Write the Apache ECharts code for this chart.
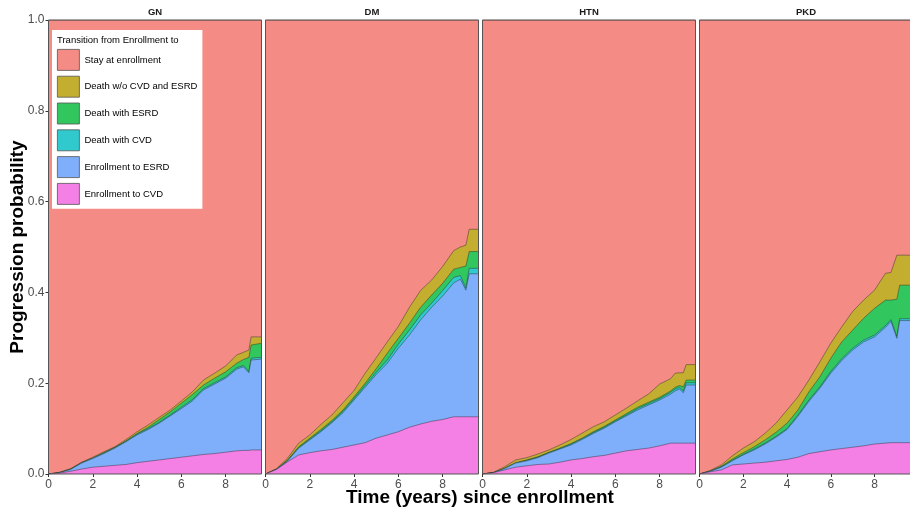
<!DOCTYPE html>
<html>
<head>
<meta charset="utf-8">
<script src="https://cdn.jsdelivr.net/npm/echarts@6/dist/echarts.min.js"></script>
<style>
html, body { margin: 0; padding: 0; background: #fff; }
#chart { width: 910px; height: 509px; }
</style>
</head>
<body>
<div id="chart"></div>
<script>
var PANELS = ['GN', 'DM', 'HTN', 'PKD'];
var STATES = ['Stay at enrollment', 'Death w/o CVD and ESRD', 'Death with ESRD',
    'Death with CVD', 'Enrollment to ESRD', 'Enrollment to CVD'];
var X_TICKS = [0, 2, 4, 6, 8];
var Y_TICKS = [0, 0.2, 0.4, 0.6, 0.8, 1.0];

/* each array is the level reached at the top of that band (stacked from CVD up) */

// GN
var gnTime = [0, 0.5, 1, 1.5, 2, 2.5, 3, 3.5, 4, 4.5, 5, 5.5, 6, 6.5, 7, 7.5, 8, 8.5, 8.8, 9.05, 9.15, 9.62];
var gnToCvd = [0, 0.002, 0.006, 0.011, 0.015, 0.017, 0.019, 0.021, 0.025, 0.028, 0.031, 0.034, 0.037, 0.040, 0.043, 0.045, 0.048, 0.051, 0.052, 0.052, 0.053, 0.053];
var gnToEsrd = [0, 0.003, 0.010, 0.024, 0.034, 0.045, 0.057, 0.071, 0.086, 0.098, 0.112, 0.128, 0.144, 0.161, 0.185, 0.198, 0.211, 0.231, 0.236, 0.223, 0.251, 0.253];
var gnDeathCvd = [0, 0.003, 0.010, 0.025, 0.035, 0.046, 0.058, 0.072, 0.088, 0.100, 0.114, 0.130, 0.147, 0.164, 0.188, 0.201, 0.214, 0.234, 0.239, 0.226, 0.255, 0.257];
var gnDeathEsrd = [0, 0.003, 0.011, 0.025, 0.035, 0.047, 0.059, 0.073, 0.089, 0.103, 0.120, 0.137, 0.156, 0.175, 0.196, 0.211, 0.225, 0.244, 0.252, 0.257, 0.284, 0.288];
var gnDeathOther = [0, 0.004, 0.012, 0.026, 0.037, 0.049, 0.060, 0.076, 0.093, 0.108, 0.125, 0.141, 0.161, 0.181, 0.207, 0.222, 0.238, 0.262, 0.268, 0.273, 0.302, 0.302];

// DM
var dmTime = [0, 0.5, 1, 1.5, 2, 2.5, 3, 3.5, 4, 4.5, 5, 5.5, 6, 6.5, 7, 7.5, 8, 8.5, 8.8, 9.05, 9.2, 9.62];
var dmToCvd = [0, 0.010, 0.027, 0.042, 0.047, 0.051, 0.054, 0.059, 0.064, 0.069, 0.079, 0.086, 0.093, 0.103, 0.110, 0.116, 0.120, 0.126, 0.126, 0.126, 0.126, 0.126];
var dmToEsrd = [0, 0.010, 0.029, 0.057, 0.075, 0.093, 0.113, 0.135, 0.163, 0.191, 0.219, 0.244, 0.277, 0.306, 0.339, 0.367, 0.392, 0.421, 0.429, 0.405, 0.441, 0.441];
var dmDeathCvd = [0, 0.010, 0.030, 0.058, 0.077, 0.095, 0.115, 0.138, 0.166, 0.195, 0.224, 0.251, 0.286, 0.317, 0.350, 0.376, 0.404, 0.433, 0.437, 0.410, 0.453, 0.453];
var dmDeathEsrd = [0, 0.011, 0.031, 0.060, 0.079, 0.098, 0.118, 0.141, 0.170, 0.200, 0.232, 0.266, 0.299, 0.332, 0.367, 0.394, 0.420, 0.451, 0.455, 0.458, 0.490, 0.490];
var dmDeathOther = [0, 0.012, 0.035, 0.068, 0.086, 0.109, 0.130, 0.157, 0.184, 0.222, 0.256, 0.291, 0.325, 0.367, 0.404, 0.427, 0.457, 0.492, 0.500, 0.504, 0.539, 0.539];

// HTN
var htnTime = [0, 0.5, 1, 1.5, 2, 2.5, 3, 3.5, 4, 4.5, 5, 5.5, 6, 6.5, 7, 7.5, 8, 8.5, 8.7, 8.9, 9.07, 9.2, 9.62];
var htnToCvd = [0, 0.003, 0.009, 0.015, 0.018, 0.021, 0.022, 0.026, 0.031, 0.034, 0.038, 0.041, 0.046, 0.051, 0.054, 0.057, 0.062, 0.068, 0.068, 0.068, 0.068, 0.068, 0.068];
var htnToEsrd = [0, 0.003, 0.012, 0.024, 0.029, 0.036, 0.046, 0.055, 0.064, 0.076, 0.089, 0.101, 0.115, 0.128, 0.141, 0.152, 0.163, 0.176, 0.183, 0.187, 0.179, 0.196, 0.196];
var htnDeathCvd = [0, 0.003, 0.012, 0.024, 0.030, 0.037, 0.047, 0.056, 0.066, 0.078, 0.091, 0.103, 0.117, 0.130, 0.144, 0.155, 0.166, 0.180, 0.187, 0.191, 0.183, 0.201, 0.201];
var htnDeathEsrd = [0, 0.003, 0.013, 0.025, 0.031, 0.038, 0.048, 0.057, 0.067, 0.079, 0.093, 0.105, 0.119, 0.133, 0.147, 0.158, 0.169, 0.183, 0.191, 0.195, 0.192, 0.207, 0.207];
var htnDeathOther = [0, 0.004, 0.016, 0.031, 0.036, 0.044, 0.053, 0.064, 0.076, 0.090, 0.104, 0.115, 0.130, 0.145, 0.161, 0.176, 0.198, 0.210, 0.222, 0.223, 0.223, 0.241, 0.241];

// PKD
var pkdTime = [0, 0.5, 1, 1.5, 2, 2.5, 3, 3.5, 4, 4.5, 5, 5.5, 6, 6.5, 7, 7.5, 8, 8.5, 8.75, 9.02, 9.15, 9.62];
var pkdToCvd = [0, 0.005, 0.009, 0.020, 0.022, 0.024, 0.026, 0.029, 0.032, 0.037, 0.045, 0.049, 0.053, 0.056, 0.059, 0.062, 0.066, 0.068, 0.069, 0.069, 0.069, 0.069];
var pkdToEsrd = [0, 0.006, 0.015, 0.029, 0.042, 0.053, 0.066, 0.081, 0.098, 0.127, 0.160, 0.189, 0.222, 0.250, 0.273, 0.291, 0.302, 0.323, 0.336, 0.299, 0.338, 0.338];
var pkdDeathCvd = [0, 0.006, 0.016, 0.030, 0.043, 0.055, 0.068, 0.083, 0.100, 0.130, 0.163, 0.192, 0.226, 0.254, 0.277, 0.295, 0.306, 0.327, 0.340, 0.303, 0.342, 0.342];
var pkdDeathEsrd = [0, 0.007, 0.017, 0.033, 0.047, 0.060, 0.075, 0.092, 0.112, 0.141, 0.181, 0.214, 0.255, 0.291, 0.317, 0.343, 0.365, 0.383, 0.383, 0.385, 0.416, 0.416];
var pkdDeathOther = [0, 0.008, 0.020, 0.040, 0.057, 0.071, 0.090, 0.112, 0.141, 0.170, 0.207, 0.247, 0.288, 0.324, 0.358, 0.383, 0.405, 0.442, 0.444, 0.482, 0.482, 0.482];

// ggplot hue colours at 0.8 alpha over white, flattened
var COLORS = ['#F48B84', '#C3AE30', '#32C65F', '#30CACE', '#7FAEFB', '#F47FE5'];

var PANEL_LEFT = [48.5, 265.5, 482.5, 699.5];
var PANEL_W = 213;
var PANEL_TOP = 20;
var PANEL_H = 454;
var X_MAX = 9.62;

var panelData = [
    {time: gnTime, levels: [gnDeathOther, gnDeathEsrd, gnDeathCvd, gnToEsrd, gnToCvd]},
    {time: dmTime, levels: [dmDeathOther, dmDeathEsrd, dmDeathCvd, dmToEsrd, dmToCvd]},
    {time: htnTime, levels: [htnDeathOther, htnDeathEsrd, htnDeathCvd, htnToEsrd, htnToCvd]},
    {time: pkdTime, levels: [pkdDeathOther, pkdDeathEsrd, pkdDeathCvd, pkdToEsrd, pkdToCvd]}
];

var FONT = 'Liberation Sans, Arial, sans-serif';
var grids = [], xAxes = [], yAxes = [], series = [], graphics = [];

for (var p = 0; p < PANELS.length; p++) {
    grids.push({left: PANEL_LEFT[p], top: PANEL_TOP, width: PANEL_W, height: PANEL_H});
    xAxes.push({
        type: 'value', gridIndex: p, min: 0, max: X_MAX,
        axisLine: {show: false},
        splitLine: {show: false},
        axisTick: {show: true, length: 3, customValues: X_TICKS, lineStyle: {color: '#333', width: 1}},
        axisLabel: {customValues: X_TICKS, color: '#4d4d4d', fontSize: 12, fontFamily: FONT, margin: 5}
    });
    yAxes.push({
        type: 'value', gridIndex: p, min: 0, max: 1, interval: 0.2,
        axisLine: {show: false},
        splitLine: {show: false},
        axisTick: {show: p === 0, length: 3, lineStyle: {color: '#333', width: 1}},
        axisLabel: {show: p === 0, color: '#4d4d4d', fontSize: 12, fontFamily: FONT, margin: 4,
            formatter: function (v) { return v.toFixed(1); }}
    });

    var d = panelData[p];
    for (var s = 0; s < STATES.length; s++) {
        var vals = s === 0 ? d.time.map(function () { return 1; }) : d.levels[s - 1];
        series.push({
            name: STATES[s],
            type: 'line',
            xAxisIndex: p,
            yAxisIndex: p,
            data: d.time.map(function (t, i) { return [t, vals[i]]; }),
            showSymbol: false,
            symbol: 'none',
            color: COLORS[s],
            itemStyle: {color: COLORS[s]},
            lineStyle: {color: '#2b2b2b', width: 0.6, opacity: 0.75},
            areaStyle: {color: COLORS[s], opacity: 1},
            emphasis: {disabled: true},
            z: 2 + s * 0.01
        });
    }

    graphics.push({
        type: 'rect', z: 100, silent: true,
        shape: {x: PANEL_LEFT[p], y: PANEL_TOP, width: PANEL_W, height: PANEL_H},
        style: {fill: 'none', stroke: '#555', lineWidth: 1}
    });
    graphics.push({
        type: 'text', z: 100, silent: true,
        x: PANEL_LEFT[p] + PANEL_W / 2, y: 12,
        style: {text: PANELS[p], align: 'center', verticalAlign: 'middle',
            font: 'bold 9.5px ' + FONT, fill: '#1a1a1a'}
    });
}

graphics.push({
    type: 'text', z: 100, silent: true,
    x: 57, y: 40,
    style: {text: 'Transition from Enrollment to', align: 'left', verticalAlign: 'middle',
        font: '9.5px ' + FONT, fill: '#000'}
});
graphics.push({
    type: 'text', z: 100, silent: true,
    x: 18, y: 247, rotation: Math.PI / 2,
    style: {text: 'Progression probability', align: 'center', verticalAlign: 'middle',
        font: 'bold 19px ' + FONT, fill: '#000'}
});
graphics.push({
    type: 'text', z: 100, silent: true,
    x: 480, y: 498,
    style: {text: 'Time (years) since enrollment', align: 'center', verticalAlign: 'middle',
        font: 'bold 19px ' + FONT, fill: '#000'}
});

var chart = echarts.init(document.getElementById('chart'), null, {renderer: 'canvas'});
chart.setOption({
    animation: false,
    backgroundColor: '#fff',
    grid: grids,
    xAxis: xAxes,
    yAxis: yAxes,
    legend: {
        data: STATES,
        orient: 'vertical',
        left: 52, top: 30,
        padding: [19, 5, 4, 5],
        backgroundColor: '#fff',
        icon: 'rect',
        itemWidth: 22, itemHeight: 21, itemGap: 5,
        selectedMode: false,
        itemStyle: {borderColor: '#555', borderWidth: 0.8},
        textStyle: {fontSize: 9.5, fontFamily: FONT, color: '#000'}
    },
    series: series,
    graphic: {elements: graphics}
});
</script>
</body>
</html>
